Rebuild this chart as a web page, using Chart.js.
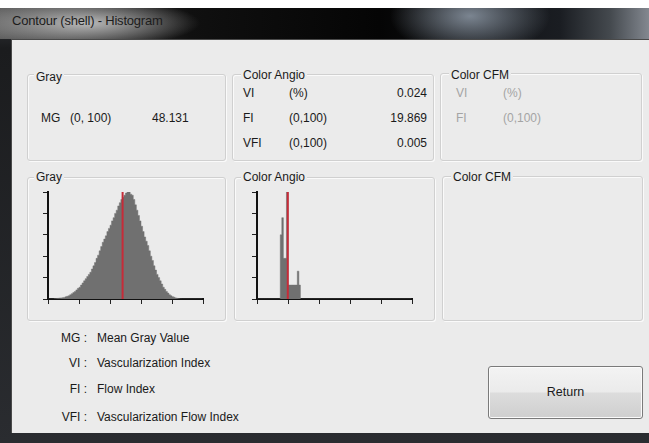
<!DOCTYPE html>
<html lang="en">
<head>
    <meta charset="UTF-8">
    <title>Contour (shell) - Histogram</title>
    <script src="https://cdn.jsdelivr.net/npm/chart.js"></script>
    <style>
        body { margin: 0; width: 649px; height: 443px; position: relative; overflow: hidden; background: #fff;
               font-family: "Liberation Sans", Arial, sans-serif; font-size: 12px; color: #1a1a1a; }
        .abs { position: absolute; line-height: 14px; white-space: nowrap; }
        #frame { position: absolute; left: 0; top: 8px; width: 649px; height: 435px;
                 background: linear-gradient(to bottom, #3a3d42 0, #1b1c1e 40px, #2a2c30 100%); }
        #titlebar { position: absolute; left: 0; top: 8px; width: 649px; height: 31px;
                    background:
                      radial-gradient(ellipse 115px 24px at 85px 15px, rgba(200,200,200,0.9), rgba(200,200,200,0)),
                      radial-gradient(ellipse 80px 40px at 470px 8px, rgba(150,162,176,0.8), rgba(150,162,176,0)),
                      linear-gradient(to right, #5e5e5e 0, #101010 190px, #050505 380px, #1a1d22 560px, #44494e 610px, #838890 649px); }
        #title { left: 12px; top: 14px; font-size: 13px; letter-spacing: -0.2px; color: #1c1c1c; }
        #content { position: absolute; left: 11px; top: 39px; width: 638px; height: 393px;
                   background: #ebebeb; border-top: 1px solid #4a4a4a; border-left: 1px solid #4a4a4a; }
        .box { position: absolute; border: 1px solid #d0d0d0; border-radius: 3px;
               box-shadow: inset 1px 1px 0 #fafafa, 1px 1px 0 #fafafa; }
        .lab { background: #ebebeb; padding: 0 2px; }
        .dim { color: #a4a4a4; }
        canvas { position: absolute; }
        #returnBtn { position: absolute; left: 488px; top: 366px; width: 153px; height: 51px;
                     border: 1px solid #7a7a7a; border-radius: 3px;
                     background: linear-gradient(to bottom, #f3f3f3 0, #ebebeb 48%, #dcdcdc 52%, #cfcfcf 100%);
                     box-shadow: inset 0 0 0 1px #fbfbfb; text-align: center; line-height: 51px; font-size: 12.5px; }
    </style>
</head>
<body>
    <div id="frame"></div>
    <div id="titlebar"></div>
    <div class="abs" id="title">Contour (shell) - Histogram</div>
    <div id="content"></div>

    <!-- group boxes -->
    <div class="box" style="left:27px;top:74px;width:197px;height:85px"></div>
    <div class="box" style="left:232px;top:74px;width:200px;height:85px"></div>
    <div class="box" style="left:440px;top:73px;width:200px;height:86px"></div>
    <div class="box" style="left:27px;top:177px;width:197px;height:142px"></div>
    <div class="box" style="left:234px;top:177px;width:199px;height:142px"></div>
    <div class="box" style="left:442px;top:176px;width:199px;height:143px"></div>

    <!-- top row text -->
    <div class="abs lab" style="left:34px;top:70px">Gray</div>
    <div class="abs" style="left:41px;top:111px">MG</div>
    <div class="abs" style="left:70px;top:111px">(0, 100)</div>
    <div class="abs" style="left:152px;top:111px">48.131</div>

    <div class="abs lab" style="left:241px;top:68px">Color Angio</div>
    <div class="abs" style="left:243px;top:86px">VI</div>
    <div class="abs" style="left:289px;top:86px">(%)</div>
    <div class="abs" style="right:222px;top:86px">0.024</div>
    <div class="abs" style="left:243px;top:111px">FI</div>
    <div class="abs" style="left:289px;top:111px">(0,100)</div>
    <div class="abs" style="right:222px;top:111px">19.869</div>
    <div class="abs" style="left:243px;top:136px">VFI</div>
    <div class="abs" style="left:289px;top:136px">(0,100)</div>
    <div class="abs" style="right:222px;top:136px">0.005</div>

    <div class="abs lab" style="left:449px;top:68px">Color CFM</div>
    <div class="abs dim" style="left:456px;top:86px">VI</div>
    <div class="abs dim" style="left:503px;top:86px">(%)</div>
    <div class="abs dim" style="left:456px;top:111px">FI</div>
    <div class="abs dim" style="left:503px;top:111px">(0,100)</div>

    <!-- histogram row -->
    <div class="abs lab" style="left:34px;top:170px">Gray</div>
    <div class="abs lab" style="left:241px;top:170px">Color Angio</div>
    <div class="abs lab" style="left:451px;top:170px">Color CFM</div>
    <canvas id="grayChart" width="175" height="125" style="left:38px;top:185px"></canvas>
    <canvas id="angioChart" width="175" height="125" style="left:247px;top:185px"></canvas>

    <!-- abbreviations -->
    <div class="abs" style="left:30px;top:331px;width:57px;text-align:right">MG :</div>
    <div class="abs" style="left:97px;top:331px">Mean Gray Value</div>
    <div class="abs" style="left:30px;top:356px;width:57px;text-align:right">VI :</div>
    <div class="abs" style="left:97px;top:356px">Vascularization Index</div>
    <div class="abs" style="left:30px;top:382px;width:57px;text-align:right">FI :</div>
    <div class="abs" style="left:97px;top:382px">Flow Index</div>
    <div class="abs" style="left:30px;top:410px;width:57px;text-align:right">VFI :</div>
    <div class="abs" style="left:97px;top:410px">Vascularization Flow Index</div>

    <div id="returnBtn">Return</div>

    <script>
        // Histogram bins: one bin per unit on the 0-100 range, heights as % of the tallest bin
        const grayBins = [
            0, 0, 0, 0, 0.3, 0.5, 0.6, 0.8, 1, 1.2,
            1.5, 2, 2.5, 3, 4, 5, 6, 7, 8.5, 10,
            11, 13, 15, 17, 19, 21, 23, 25, 28, 31,
            34, 38, 41, 45, 49, 53, 56, 59, 63, 66,
            69, 73, 76, 80, 83, 87, 90, 93, 95, 97,
            99, 100, 100, 98, 97, 93, 88, 83, 78, 73,
            68, 63, 58, 54, 50, 45, 40, 36, 31, 27,
            23, 20, 17, 14, 11, 9, 7, 5.5, 4, 3,
            2.2, 1.6, 1, 0.6, 0.3, 0.1, 0, 0, 0, 0,
            0, 0, 0, 0, 0, 0, 0, 0, 0, 0
        ];
        const angioBins = [
            0, 0, 0, 0, 0, 0, 0, 0, 0, 0,
            0, 0, 0, 0, 0, 60, 76, 38, 38, 100,
            13, 13, 13, 13, 13, 13, 26, 13, 0, 0,
            0, 0, 0, 0, 0, 0, 0, 0, 0, 0,
            0, 0, 0, 0, 0, 0, 0, 0, 0, 0,
            0, 0, 0, 0, 0, 0, 0, 0, 0, 0,
            0, 0, 0, 0, 0, 0, 0, 0, 0, 0,
            0, 0, 0, 0, 0, 0, 0, 0, 0, 0,
            0, 0, 0, 0, 0, 0, 0, 0, 0, 0,
            0, 0, 0, 0, 0, 0, 0, 0, 0, 0
        ];
        const grayMean = 48.131;   // MG
        const angioFlow = 19.869;  // FI
        const axisMin = 0;
        const axisMax = 100;
        const tickStep = 20;

        function axis() {
            return {
                type: 'linear',
                min: axisMin,
                max: axisMax,
                ticks: { display: false, stepSize: tickStep },
                grid: { drawOnChartArea: false, drawTicks: true, tickLength: 5, color: '#222', lineWidth: 1 },
                border: { color: '#111', width: 2 }
            };
        }

        // histogram drawn as a filled step line so the bins join without seams
        function drawHistogram(id, bins, marker) {
            new Chart(document.getElementById(id), {
                type: 'line',
                data: {
                    datasets: [
                        {
                            data: [{ x: marker, y: axisMin }, { x: marker, y: axisMax }],
                            borderColor: '#c62b38',
                            borderWidth: 2,
                            pointRadius: 0,
                            fill: false,
                            order: 0
                        },
                        {
                            data: bins.map((v, i) => ({ x: i + 0.5, y: v })),
                            stepped: 'middle',
                            fill: 'origin',
                            backgroundColor: '#707070',
                            borderColor: '#707070',
                            borderWidth: 0.5,
                            pointRadius: 0,
                            order: 1
                        }
                    ]
                },
                options: {
                    responsive: false,
                    animation: false,
                    layout: { padding: { left: 5, top: 7, right: 10, bottom: 6 } },
                    plugins: { legend: { display: false }, tooltip: { enabled: false } },
                    scales: { x: axis(), y: axis() }
                }
            });
        }

        drawHistogram('grayChart', grayBins, grayMean);
        drawHistogram('angioChart', angioBins, angioFlow);
    </script>
</body>
</html>
